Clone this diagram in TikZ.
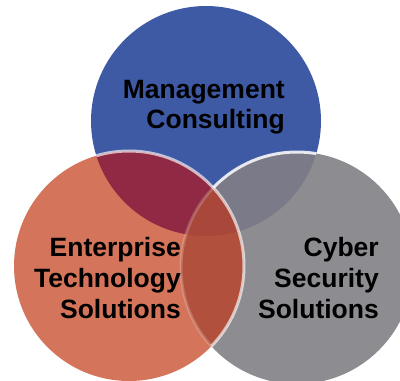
\documentclass[tikz,border=0pt]{standalone}
\usepackage{fontspec}
\setmainfont{Liberation Sans}
\definecolor{cblue}{HTML}{3F5AA4}
\definecolor{corange}{HTML}{D4745A}
\definecolor{cgray}{HTML}{8D8C90}
\definecolor{cbo}{HTML}{902944}
\definecolor{cbg}{HTML}{7A7A88}
\definecolor{cog}{HTML}{B0503D}
\definecolor{ctri}{HTML}{A8473A}
\begin{document}
\begin{tikzpicture}[x=1pt,y=-1pt,
  lbl/.style={font=\fontsize{26.5}{31}\selectfont\bfseries, inner sep=0pt, anchor=base east, text=black},
  rim/.style={white, line width=3pt}]
\useasboundingbox (0,0) rectangle (400,381);
\fill[white] (0,0) rectangle (400,381);
\def\B{(206,121) circle[radius=115pt]}
\def\O{(129,266) circle[radius=115pt]}
\def\G{(297,268) circle[radius=116pt]}
% blue and gray
\fill[cblue] \B;
\fill[cgray] \G;
\begin{scope}
  \clip \B;
  \fill[cbg] \G;
\end{scope}
\begin{scope}
  \clip \B;
  \draw[rim, opacity=0.85] \G;
\end{scope}
% orange on top
\fill[corange] \O;
\begin{scope}
  \clip \O;
  \fill[cbo] \B;
  \fill[cog] \G;
  \clip \G;
  \fill[ctri] \B;
\end{scope}
\begin{scope}
  \clip \O;
  \draw[rim, opacity=0.2] \G;
\end{scope}
% orange rim, only where it lies over blue or gray
\begin{scope}
  \clip \G;
  \draw[rim, opacity=0.65] \O;
\end{scope}
\begin{scope}[even odd rule]
  \clip \B \G;
  \clip \B;
  \draw[rim, opacity=0.65] \O;
\end{scope}
% labels
\node[lbl] (mc1) at (285,98) {Management};
\node[lbl] (mc2) at (285,128) {Consulting};
\node[lbl] (et1) at (181,256) {Enterprise};
\node[lbl] (et2) at (181,287) {Technology};
\node[lbl] (et3) at (181,318) {Solutions};
\node[lbl] (cs1) at (379,256) {Cyber};
\node[lbl] (cs2) at (379,287) {Security};
\node[lbl] (cs3) at (379,318) {Solutions};
\end{tikzpicture}
\end{document}
